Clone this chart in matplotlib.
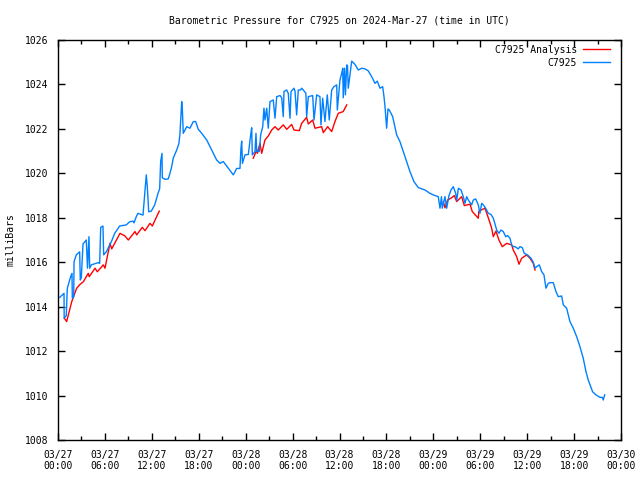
import matplotlib
matplotlib.use("Agg")
import matplotlib.pyplot as plt
import matplotlib.dates as mdates
import pandas as pd

# hours after 2024-03-27 00:00 UTC, pressure in mb
obs_hours = [0.22, 0.77, 0.79, 1.06, 1.19, 1.62, 1.79, 1.83, 2.01, 2.05, 2.34, 2.77, 2.85, 2.98,
             3.2, 3.62, 3.77, 3.96, 4.05, 4.26, 5.12, 5.33, 5.46, 5.75, 5.84, 6.18, 6.82, 7.25,
             7.89, 8.73, 9.17, 9.59, 9.72, 10.01, 10.23, 10.87, 11.16, 11.29, 11.42, 11.6, 11.93,
             12.37, 12.79, 13.0, 13.13, 13.3, 13.34, 13.68, 14.1, 14.32, 14.54, 14.74, 15.18,
             15.47, 15.6, 15.73, 15.82, 15.9, 16.02, 16.46, 16.88, 17.3, 17.61, 17.94, 18.38,
             19.02, 19.65, 20.29, 20.72, 21.14, 21.57, 22.12, 22.42, 22.85, 23.27, 23.4, 23.49,
             23.59, 23.91, 24.34, 24.64, 24.77, 24.85, 25.19, 25.32, 25.41, 25.74, 25.92, 26.18,
             26.34, 26.47, 26.69, 26.89, 27.11, 27.53, 27.75, 27.97, 28.39, 28.61, 28.81, 28.9,
             29.25, 29.45, 29.67, 29.8, 30.18, 30.31, 30.52, 30.73, 31.01, 31.16, 31.37, 31.7,
             31.8, 32.01, 32.57, 32.74, 33.08, 33.5, 33.63, 33.85, 34.14, 34.44, 34.69, 35.0,
             35.29, 35.64, 35.72, 36.06, 36.28, 36.41, 36.48, 36.64, 36.76, 36.92, 37.02, 37.12,
             37.56, 37.98, 38.4, 38.84, 39.26, 39.68, 40.12, 40.54, 40.83, 41.18, 41.52, 41.69,
             41.82, 42.03, 42.2, 42.37, 42.8, 43.31, 43.73, 44.16, 44.59, 45.01, 45.52, 46.07,
             46.93, 47.57, 47.99, 48.63, 48.85, 49.04, 49.14, 49.49, 49.71, 50.0, 50.26, 50.55,
             50.86, 50.99, 51.2, 51.55, 51.83, 52.05, 52.26, 52.47, 52.9, 53.11, 53.41, 53.75,
             53.96, 54.18, 54.39, 54.69, 55.03, 55.37, 55.67, 55.97, 56.1, 56.39, 56.65, 56.94,
             57.26, 57.51, 57.8, 58.02, 58.22, 58.44, 58.86, 59.08, 59.37, 59.63, 59.81, 60.14,
             60.49, 60.78, 61.0, 61.21, 61.55, 61.85, 62.15, 62.4, 62.7, 62.92, 63.34, 63.68,
             63.98, 64.41, 64.62, 65.05, 65.47, 65.9, 66.33, 66.75, 67.17, 67.52, 67.81, 68.12,
             68.37, 68.8, 69.31, 69.6, 69.73, 69.91]
obs_mb = [1014.42, 1014.6, 1013.48, 1013.6, 1014.83, 1015.35, 1015.5, 1014.38, 1014.45, 1016.02,
          1016.33, 1016.47, 1015.2, 1015.3, 1016.82, 1017.0, 1015.73, 1017.15, 1015.73, 1015.88,
          1015.98, 1015.95, 1017.57, 1017.63, 1016.33, 1016.47, 1016.92, 1017.3, 1017.63,
          1017.68, 1017.82, 1017.85, 1017.77, 1018.05, 1018.2, 1018.12, 1019.4, 1019.93, 1019.4,
          1018.27, 1018.3, 1018.58, 1019.1, 1019.3, 1020.53, 1020.9, 1019.8, 1019.73, 1019.75,
          1020.0, 1020.3, 1020.68, 1021.05, 1021.35, 1021.8, 1022.7, 1023.23, 1022.9, 1021.8,
          1022.1, 1022.03, 1022.33, 1022.33, 1021.98, 1021.8, 1021.5, 1021.05, 1020.6, 1020.45,
          1020.53, 1020.33, 1020.08, 1019.93, 1020.22, 1020.22, 1021.13, 1021.45, 1020.45,
          1020.83, 1020.85, 1021.73, 1022.05, 1020.83, 1020.98, 1021.8, 1020.98, 1020.98,
          1021.73, 1022.1, 1022.93, 1022.4, 1022.93, 1022.03, 1023.23, 1023.3, 1022.48, 1023.45,
          1023.5, 1023.4, 1022.55, 1023.68, 1023.75, 1023.6, 1022.48, 1023.68, 1023.83, 1023.7,
          1022.63, 1023.75, 1023.75, 1023.83, 1023.75, 1023.6, 1022.55, 1023.45, 1023.5, 1022.4,
          1023.53, 1023.45, 1022.18, 1023.38, 1022.33, 1023.53, 1022.4, 1023.75, 1023.9, 1023.98,
          1022.85, 1024.2, 1024.5, 1024.73, 1023.4, 1024.73, 1023.53, 1024.88, 1024.85, 1023.83,
          1025.05, 1024.9, 1024.65, 1024.73, 1024.7, 1024.61, 1024.35, 1024.05, 1024.15,
          1023.83, 1023.9, 1023.45, 1023.0, 1022.03, 1022.9, 1022.85, 1022.55, 1021.73, 1021.43,
          1020.98, 1020.53, 1020.08, 1019.63, 1019.36, 1019.25, 1019.1, 1019.03, 1018.95,
          1018.43, 1018.95, 1018.43, 1018.95, 1018.43, 1019.0, 1019.25, 1019.4, 1019.1, 1018.78,
          1019.33, 1019.25, 1018.95, 1018.65, 1018.95, 1018.8, 1018.58, 1018.8, 1018.85,
          1018.58, 1018.2, 1018.65, 1018.58, 1018.43, 1018.2, 1018.15, 1017.98, 1017.6, 1017.45,
          1017.3, 1017.45, 1017.38, 1017.15, 1017.2, 1017.08, 1016.78, 1016.7, 1016.7, 1016.6,
          1016.7, 1016.66, 1016.4, 1016.37, 1016.3, 1016.18, 1016.0, 1015.73, 1015.8, 1015.88,
          1015.58, 1015.43, 1014.83, 1015.05, 1015.08, 1015.08, 1014.68, 1014.45, 1014.48,
          1014.08, 1013.93, 1013.33, 1013.03, 1012.65, 1012.2, 1011.68, 1011.08, 1010.7,
          1010.4, 1010.17, 1010.03, 1009.92, 1009.92, 1009.8, 1010.03]

# analysis runs (three separate windows)
ana1_hours = [0.81, 1.11, 1.75, 2.39, 2.81, 3.24, 3.87, 4.0, 4.73, 5.03, 5.79, 6.01, 6.65, 6.87,
              7.93, 8.57, 8.99, 9.85, 10.06, 10.78, 11.13, 11.76, 12.06, 12.95]
ana1_mb = [1013.48, 1013.33, 1014.22, 1014.83, 1015.0, 1015.12, 1015.5, 1015.35, 1015.73,
           1015.57, 1015.88, 1015.73, 1016.85, 1016.6, 1017.3, 1017.18, 1017.0, 1017.38,
           1017.23, 1017.57, 1017.42, 1017.75, 1017.63, 1018.3]
ana2_hours = [24.97, 25.41, 25.49, 25.83, 26.05, 26.47, 26.89, 27.33, 27.75, 28.17, 28.81, 29.25,
              29.88, 30.18, 30.86, 31.16, 31.8, 32.01, 32.57, 32.86, 33.72, 33.93, 34.49, 35.0,
              35.42, 35.84, 36.48, 36.92]
ana2_mb = [1020.68, 1021.05, 1020.9, 1021.35, 1020.9, 1021.5, 1021.68, 1021.95, 1022.1, 1021.95,
           1022.18, 1021.98, 1022.2, 1021.95, 1021.92, 1022.25, 1022.52, 1022.22, 1022.4,
           1022.03, 1022.1, 1021.83, 1022.1, 1021.88, 1022.33, 1022.7, 1022.78, 1023.08]
ana3_hours = [49.27, 49.49, 49.83, 50.35, 50.68, 50.99, 51.62, 51.96, 52.69, 52.98, 53.75, 53.82,
              54.6, 55.03, 55.46, 55.67, 56.01, 56.39, 56.82, 57.38, 58.02, 58.22, 58.66, 58.95,
              59.3, 59.94, 60.36, 60.78, 61.0]
ana3_mb = [1018.73, 1018.45, 1018.8, 1018.9, 1019.0, 1018.73, 1018.95, 1018.55, 1018.61,
           1018.28, 1017.98, 1018.3, 1018.43, 1018.0, 1017.53, 1017.15, 1017.4, 1017.0, 1016.7,
           1016.85, 1016.78, 1016.55, 1016.25, 1015.91, 1016.18, 1016.33, 1016.18, 1015.95,
           1015.65]

start = pd.Timestamp("2024-03-27 00:00")


def to_time(hours):
    return start + pd.to_timedelta(hours, unit="h")


plt.rcParams["font.family"] = ["DejaVu Sans Mono"]
plt.rcParams["font.size"] = 7

fig = plt.figure(figsize=(6.4, 4.8), dpi=100)
ax = fig.add_axes([58 / 640, 40 / 480, 563 / 640, 400 / 480])

red = "#ff0000"
blue = "#0080ff"
ax.plot(to_time(ana1_hours), ana1_mb, color=red, lw=1, label="C7925 Analysis")
ax.plot(to_time(ana2_hours), ana2_mb, color=red, lw=1)
ax.plot(to_time(ana3_hours), ana3_mb, color=red, lw=1)
ax.plot(to_time(obs_hours), obs_mb, color=blue, lw=1, label="C7925")

ax.set_xlim(start, start + pd.Timedelta(hours=72))
ax.set_ylim(1008, 1026)
ax.set_yticks(range(1008, 1027, 2))
ax.xaxis.set_major_locator(mdates.HourLocator(byhour=[0, 6, 12, 18]))
ax.xaxis.set_minor_locator(mdates.HourLocator(byhour=range(0, 24, 3)))
ax.xaxis.set_major_formatter(mdates.DateFormatter("%m/%d\n%H:%M"))
ax.tick_params(which="both", direction="in", top=True, right=True, width=1)
ax.tick_params(which="major", length=5, pad=7)
ax.tick_params(which="minor", length=3)
for s in ax.spines.values():
    s.set_linewidth(1)

ax.set_ylabel("milliBars", labelpad=7)
ax.set_title("Barometric Pressure for C7925 on 2024-Mar-27 (time in UTC)",
             fontsize=7, pad=12)

leg = ax.legend(loc="upper right", frameon=False, markerfirst=False,
                handlelength=2.8, handletextpad=0.6, borderaxespad=0.3,
                labelspacing=0.3, bbox_to_anchor=(0.993, 1.005))
for t in leg.get_texts():
    t.set_ha("right")

fig.savefig("out.png", dpi=100)
